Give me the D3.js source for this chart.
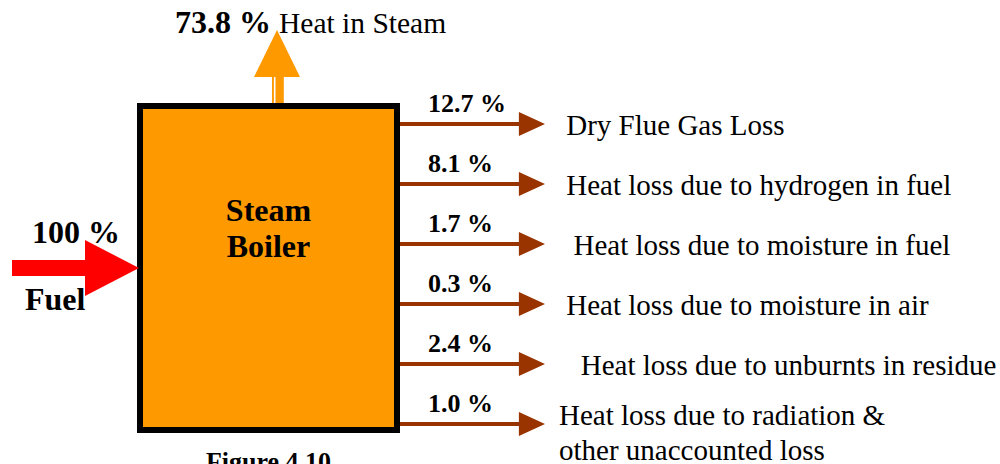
<!DOCTYPE html>
<html>
<head>
<meta charset="utf-8">
<script src="https://cdn.jsdelivr.net/npm/d3@7/dist/d3.min.js"></script>
<style>
  body { margin: 0; background: #fff; }
  svg { display: block; font-family: "Liberation Serif", "Times New Roman", serif; }
</style>
</head>
<body>
<svg width="1000" height="464"></svg>
<script>
// heat balance of the boiler, in percent of fuel input
var inputLabel = 'Fuel'
var inputValue = 100
var outputLabel = 'Heat in Steam'
var outputValue = 73.8
// the source text keeps its leading blanks
var lossLabels = [
  ['\u00a0Dry Flue Gas Loss'],
  ['\u00a0Heat loss due to hydrogen in fuel'],
  ['\u00a0\u00a0Heat loss due to moisture in fuel'],
  ['\u00a0Heat loss due to moisture in air'],
  ['\u00a0\u00a0\u00a0Heat loss due to unburnts in residue'],
  ['Heat loss due to radiation &', 'other unaccounted loss']
]
var lossValues = [12.7, 8.1, 1.7, 0.3, 2.4, 1.0]
var boxTitle = ['Steam', 'Boiler']
var caption = 'Figure 4.10'

var fmt = d3.format('.1f')
var svg = d3.select('svg')

var box = { x0: 140, x1: 397, y0: 106, y1: 430 }

// shaft thickness of the big arrows follows the share of energy
var thick = d3.scaleLinear().domain([0, 100]).range([0, 16])

// loss arrows sit one under the other
var y = d3.scalePoint()
  .domain(d3.range(lossValues.length))
  .range([124, 424])

var x = d3.scaleLinear().domain([0, 1]).range([box.x1 + 3, 545])

// boiler box
svg.append('rect')
  .attr('x', box.x0).attr('y', box.y0)
  .attr('width', box.x1 - box.x0).attr('height', box.y1 - box.y0)
  .attr('fill', '#ff9900')
  .attr('stroke', '#000')
  .attr('stroke-width', 6)

svg.append('g').selectAll('text').data(boxTitle).enter().append('text')
  .attr('x', (box.x0 + box.x1) / 2)
  .attr('y', function(d, i) { return 221 + i * 36 })
  .attr('text-anchor', 'middle')
  .attr('font-weight', 'bold')
  .attr('font-size', 32)
  .text(function(d) { return d })

// fuel arrow (input)
var fw = thick(inputValue)
var fy = 268
svg.append('path')
  .attr('fill', '#ff0000')
  .attr('d', d3.line()([
    [12, fy - fw / 2], [85, fy - fw / 2], [85, fy - 28], [box.x0 - 1, fy],
    [85, fy + 28], [85, fy + fw / 2], [12, fy + fw / 2]
  ]) + 'Z')

svg.append('text')
  .attr('x', 32).attr('y', 243)
  .attr('font-weight', 'bold').attr('font-size', 32)
  .text(inputValue + ' %')
svg.append('text')
  .attr('x', 25).attr('y', 310)
  .attr('font-weight', 'bold').attr('font-size', 32)
  .text(inputLabel)

// steam arrow (useful output)
var sw = thick(outputValue)
var sx = 272
svg.append('rect')
  .attr('x', sx).attr('y', 76)
  .attr('width', sw).attr('height', box.y0 - 3 - 76)
  .attr('fill', '#ff9900')
svg.append('line')
  .attr('x1', sx + 2.7).attr('x2', sx + 2.7)
  .attr('y1', 77).attr('y2', box.y0 - 3)
  .attr('stroke', '#fff').attr('stroke-width', 1.6)
svg.append('path')
  .attr('fill', '#ff9900')
  .attr('d', d3.line()([[254, 77], [277, 30], [300, 77]]) + 'Z')

svg.append('text')
  .attr('x', 175).attr('y', 33)
  .attr('font-size', 29.5)
  .call(function(t) {
    t.append('tspan').attr('font-weight', 'bold').attr('font-size', 32).text(fmt(outputValue) + ' % ')
    t.append('tspan').text(outputLabel)
  })

// loss arrows
var loss = svg.append('g').selectAll('g')
  .data(lossValues).enter().append('g')
  .attr('transform', function(d, i) { return 'translate(0,' + y(i) + ')' })

loss.append('line')
  .attr('x1', x(0)).attr('x2', x(0.85))
  .attr('stroke', '#993300').attr('stroke-width', 4)
loss.append('path')
  .attr('fill', '#993300')
  .attr('d', d3.line()([[x(0.82), -12], [x(1), 0], [x(0.82), 12]]) + 'Z')

loss.append('text')
  .attr('x', 428).attr('y', -12)
  .attr('font-weight', 'bold').attr('font-size', 26)
  .text(function(d) { return fmt(d) + ' %' })

loss.append('text')
  .attr('x', 559)
  .attr('y', function(d, i) { return 11 - (lossLabels[i].length - 1) * 10 })
  .attr('font-size', 29)
  .selectAll('tspan')
  .data(function(d, i) { return lossLabels[i] })
  .enter().append('tspan')
  .attr('x', 559)
  .attr('dy', function(d, i) { return i ? 35 : 0 })
  .text(function(d) { return d })

// caption, cut by the bottom edge
svg.append('text')
  .attr('x', (box.x0 + box.x1) / 2).attr('y', 470)
  .attr('text-anchor', 'middle')
  .attr('font-weight', 'bold').attr('font-size', 26)
  .text(caption)
</script>
</body>
</html>
